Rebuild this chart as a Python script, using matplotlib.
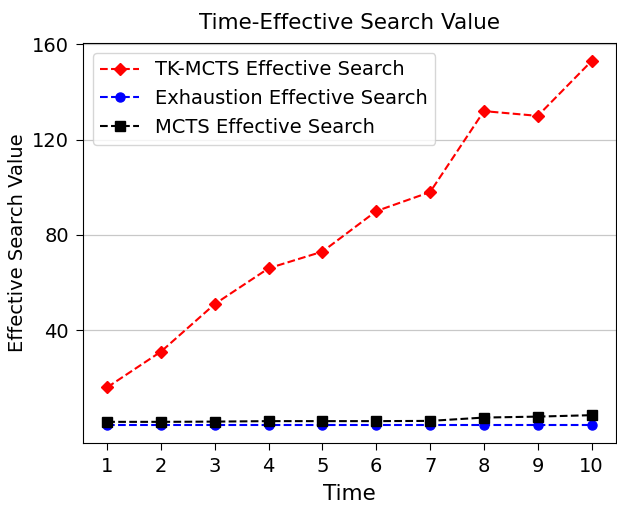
import matplotlib
matplotlib.use('Agg')
import matplotlib.pyplot as plt
import numpy as np

# data
time = [1, 2, 3, 4, 5, 6, 7, 8, 9, 10]
tk_mcts = [16, 31, 51, 66, 73, 90, 98, 132, 130, 153]
exhaustion = [0.3, 0.3, 0.3, 0.3, 0.3, 0.3, 0.3, 0.3, 0.3, 0.3]
mcts = [1.5, 1.5, 1.6, 1.8, 1.8, 1.8, 1.9, 3.3, 3.7, 4.3]
yticks = [40, 80, 120, 160]

fig, ax = plt.subplots(figsize=(6.17, 5.05), dpi=100)
fig.subplots_adjust(left=0.1345, right=0.998, top=0.915, bottom=0.123)

ax.plot(time, tk_mcts, 'r--', marker='D', markersize=6.5, label='TK-MCTS Effective Search')
ax.plot(time, exhaustion, 'b--', marker='o', markersize=6.5, label='Exhaustion Effective Search')
ax.plot(time, mcts, 'k--', marker='s', markersize=6.5, label='MCTS Effective Search')

ax.set_xticks(time)
ax.set_yticks(yticks)
ax.tick_params(labelsize=14, length=5, pad=5)
ax.yaxis.grid(True, color='#c8c8c8', linewidth=0.9)
ax.set_axisbelow(True)

ax.set_title('Time-Effective Search Value', fontsize=15.5, pad=10)
ax.set_xlabel('Time', fontsize=15.5, labelpad=6)
ax.set_ylabel('Effective Search Value', fontsize=14)
ax.legend(loc='upper left', fontsize=14)

plt.savefig('out.png')
